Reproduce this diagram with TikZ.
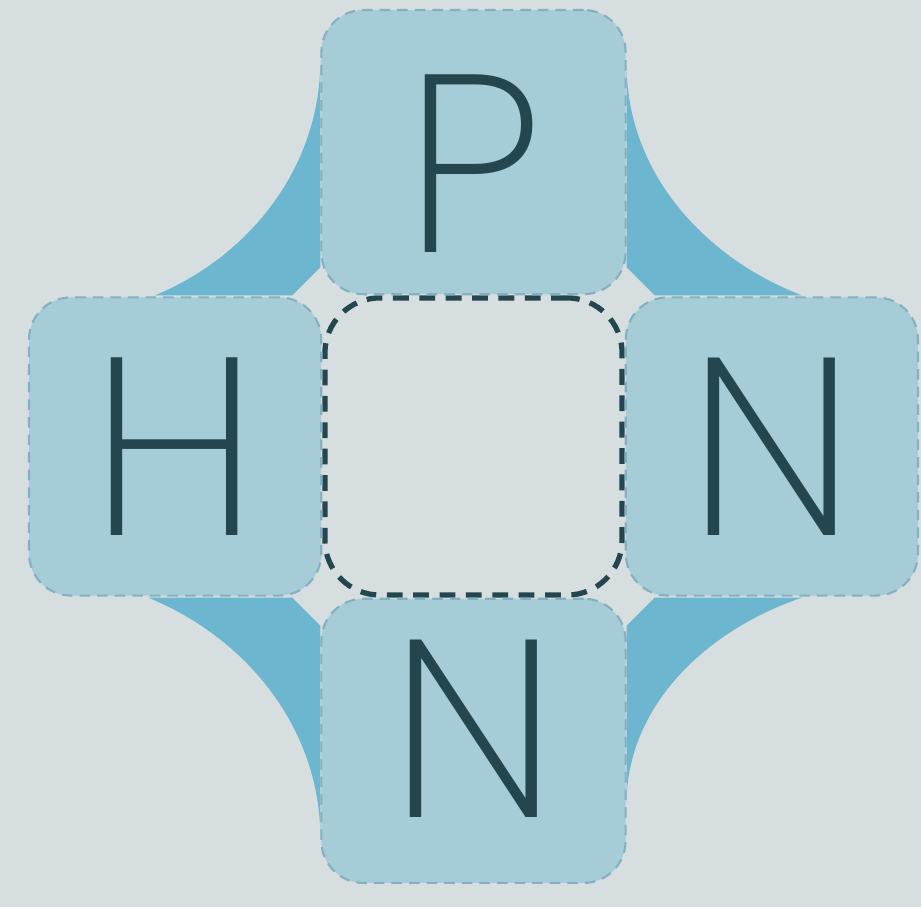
\documentclass[tikz,border=0pt]{standalone}
\usepackage{fontspec}
\usepackage{tikz}
\usetikzlibrary{positioning,backgrounds}
\newcommand\trythin[2]{\IfFontExistsTF{#1}{\newfontfamily\tilefont{#1}}{#2}}
\trythin{Poppins ExtraLight}{\trythin{Poppins Light}{\trythin{Fira Sans ExtraLight}{%
  \trythin{Fira Sans Light}{\trythin{Lato Light}{\trythin{DejaVu Sans ExtraLight}{%
  \newfontfamily\tilefont{Poppins}}}}}}}
\definecolor{paper}{HTML}{D7DEDF}
\definecolor{tileblue}{HTML}{A6CCD8}
\definecolor{tileedge}{HTML}{84B0C0}
\definecolor{webblue}{HTML}{6DB6D0}
\definecolor{ink}{HTML}{24474F}

\begin{document}
\begin{tikzpicture}[
      x=0.01cm, y=0.01cm,
      tile/.style={
        draw=tileedge, line width=0.6pt,
        dash pattern=on 3pt off 2pt,
        fill=tileblue,
        rounded corners=0.42cm,
        minimum width=3.04cm, minimum height=2.84cm,
        inner sep=0pt,
        text=ink,
        font=\tilefont\fontsize{72}{72}\selectfont
      },
      sidetile/.style={tile, minimum width=2.92cm, minimum height=2.98cm},
      hub/.style={
        draw=ink, line width=1.5pt,
        dash pattern=on 4.5pt off 3pt,
        fill=paper,
        rounded corners=0.55cm,
        minimum size=2.97cm
      },
      web/.style={fill=webblue}
    ]
      \node[hub] (ctr) at (473.5,460.5) {};
      \node[tile, above=0pt of ctr, text height=2cm, text depth=0cm] (p) {P};
      \node[sidetile, left=0pt of ctr] (h) {H};
      \node[sidetile, right=0pt of ctr] (nr) {N};
      \node[tile, below=0pt of ctr, text height=1.76cm, text depth=0.22cm] (nb) {N};
      % curved webs between the tiles
      \begin{scope}[on background layer]
        \fill[paper] (0,0) rectangle (921,907);
        \foreach \corner/\sx/\sy/\u/\v in {p.south west/-1/1/165/235,
            p.south east/1/1/175/230, nb.north west/-1/-1/172/240,
            nb.north east/1/-1/175/205}
          \fill[web, shift={(\corner)}, xscale=\sx, yscale=\sy]
            (0,\v) -- (0,28) -- (28,0) -- (\u,0)
            .. controls ({0.42*\u},{0.17*\v}) and (0,{0.55*\v}) .. (0,\v) -- cycle;
      \end{scope}
    \end{tikzpicture}
\end{document}
